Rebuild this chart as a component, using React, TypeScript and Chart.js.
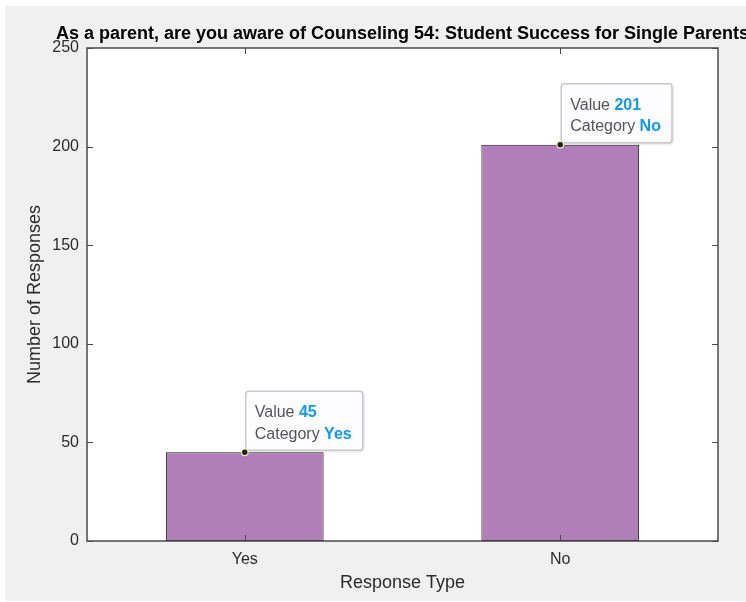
import React, { useEffect, useRef } from 'react';
import { Chart, registerables } from 'chart.js';

Chart.register(...registerables);

const TITLE = 'As a parent, are you aware of Counseling 54: Student Success for Single Parents';
const X_TITLE = 'Response Type';
const Y_TITLE = 'Number of Responses';
const categories = ['Yes', 'No'];
const responses = [45, 201];
const yMin = 0;
const yMax = 250;
const yStep = 50;
const tipLabels = ['Value', 'Category'];

const FONT = '"Liberation Sans", Arial, Helvetica, sans-serif';
const TEXT = '#2b2b2b';

const framePlugin = {
  id: 'matlabFrame',
  beforeDraw(chart: any) {
    const { ctx, width, height, chartArea: a } = chart;
    ctx.save();
    ctx.fillStyle = '#ffffff';
    ctx.fillRect(0, 0, width, height);
    ctx.fillStyle = '#f0f0f0';
    ctx.fillRect(5, 6, width - 5, height - 7);
    ctx.fillStyle = '#ffffff';
    ctx.fillRect(a.left, a.top, a.right - a.left, a.bottom - a.top);
    ctx.restore();
  },
  afterDatasetsDraw(chart: any) {
    const { ctx, chartArea: a, scales } = chart;
    ctx.save();
    ctx.strokeStyle = '#4a4a4a';
    ctx.lineWidth = 1.5;
    ctx.strokeRect(a.left, a.top, a.right - a.left, a.bottom - a.top);
    ctx.lineWidth = 1;
    ctx.beginPath();
    const ys = scales.y;
    ys.ticks.forEach((t: any) => {
      const py = Math.round(ys.getPixelForValue(t.value)) + 0.5;
      ctx.moveTo(a.left, py);
      ctx.lineTo(a.left + 6, py);
      ctx.moveTo(a.right, py);
      ctx.lineTo(a.right - 6, py);
    });
    const xs = scales.x;
    xs.ticks.forEach((_t: any, i: number) => {
      const px = Math.round(xs.getPixelForTick(i)) + 0.5;
      ctx.moveTo(px, a.bottom);
      ctx.lineTo(px, a.bottom - 6);
      ctx.moveTo(px, a.top);
      ctx.lineTo(px, a.top + 6);
    });
    ctx.stroke();

    ctx.font = `bold 18px ${FONT}`;
    ctx.fillStyle = '#000000';
    ctx.textAlign = 'center';
    ctx.textBaseline = 'alphabetic';
    ctx.fillText(TITLE, (a.left + a.right) / 2, 39);
    ctx.restore();
  },
  afterDraw(chart: any) {
    const { ctx } = chart;
    const meta = chart.getDatasetMeta(0);
    ctx.save();
    meta.data.forEach((bar: any, i: number) => {
      const px = bar.x;
      const py = bar.y;
      const vals = [String(responses[i]), categories[i]];
      ctx.font = `16px ${FONT}`;
      const lw = tipLabels.map((l) => ctx.measureText(l + ' ').width);
      ctx.font = `bold 16px ${FONT}`;
      const vw = vals.map((v) => ctx.measureText(v).width);
      const textW = Math.max(lw[0] + vw[0], lw[1] + vw[1]);
      const bw = textW + 20;
      const bh = 59;
      const bx = px + 1;
      const by = py - 2 - bh;

      ctx.save();
      ctx.shadowColor = 'rgba(0,0,0,0.18)';
      ctx.shadowBlur = 3;
      ctx.shadowOffsetX = 1;
      ctx.shadowOffsetY = 1;
      ctx.beginPath();
      ctx.roundRect(bx, by, bw, bh, 3);
      ctx.fillStyle = '#fdfdff';
      ctx.fill();
      ctx.restore();
      ctx.beginPath();
      ctx.roundRect(bx, by, bw, bh, 3);
      ctx.strokeStyle = '#c9c9c9';
      ctx.lineWidth = 1.5;
      ctx.stroke();

      ctx.textAlign = 'left';
      ctx.textBaseline = 'alphabetic';
      [0, 1].forEach((k) => {
        const ty = by + 26 + k * 21.5;
        ctx.font = `16px ${FONT}`;
        ctx.fillStyle = '#555555';
        ctx.fillText(tipLabels[k], bx + 9, ty);
        ctx.font = `bold 16px ${FONT}`;
        ctx.fillStyle = '#0d99f7';
        ctx.fillText(vals[k], bx + 9 + lw[k], ty);
      });

      ctx.beginPath();
      ctx.arc(px, py, 3.3, 0, Math.PI * 2);
      ctx.fillStyle = '#1e1e1e';
      ctx.fill();
      ctx.strokeStyle = '#eee6bd';
      ctx.lineWidth = 1.2;
      ctx.stroke();
    });
    ctx.restore();
  },
};

export default function App() {
  const ref = useRef<HTMLCanvasElement | null>(null);
  useEffect(() => {
    if (!ref.current) return;
    const chart = new Chart(ref.current, {
      type: 'bar',
      data: {
        labels: categories,
        datasets: [
          {
            data: responses,
            backgroundColor: '#b07fb7',
            borderColor: '#1e1e1e',
            borderWidth: 1,
            borderSkipped: false,
            barPercentage: 0.5,
            categoryPercentage: 1,
          },
        ],
      },
      options: {
        responsive: false,
        animation: false,
        devicePixelRatio: 1,
        layout: { padding: { left: 0, right: 28, top: 48, bottom: 0 } },
        plugins: {
          legend: { display: false },
          tooltip: { enabled: false },
          title: { display: false },
        },
        scales: {
          x: {
            type: 'category',
            offset: true,
            grid: { display: false, drawTicks: false },
            border: { display: false },
            ticks: { color: TEXT, font: { family: FONT, size: 16 }, padding: 9 },
            title: {
              display: true,
              text: X_TITLE,
              color: TEXT,
              font: { family: FONT, size: 18 },
              padding: { top: 0, bottom: 8 },
            },
            afterFit: (s: any) => {
              s.height = 61;
            },
          },
          y: {
            min: yMin,
            max: yMax,
            grid: { display: false, drawTicks: false },
            border: { display: false },
            ticks: { stepSize: yStep, color: TEXT, font: { family: FONT, size: 16 }, padding: 8 },
            title: {
              display: true,
              text: Y_TITLE,
              color: TEXT,
              font: { family: FONT, size: 18 },
              padding: { top: 24, bottom: 0 },
            },
            afterFit: (s: any) => {
              s.width = 87;
            },
          },
        },
      },
      plugins: [framePlugin],
    });
    return () => chart.destroy();
  }, []);
  return (
    <div style={{ position: 'absolute', left: 0, top: 0, width: 746, height: 602, overflow: 'hidden' }}>
      <canvas ref={ref} width={746} height={602} style={{ display: 'block', width: 746, height: 602 }} />
    </div>
  );
}
